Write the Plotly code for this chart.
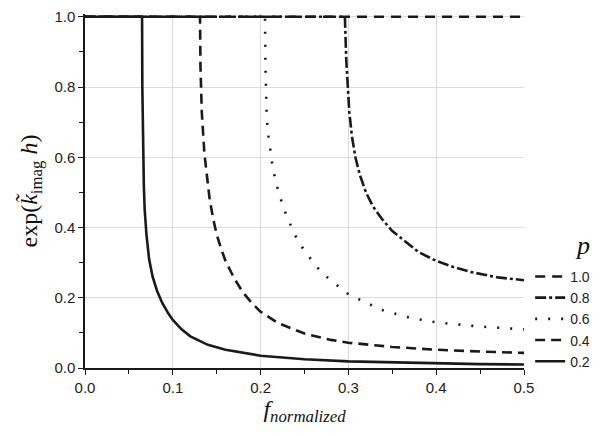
import plotly.graph_objects as go

# p = 1.0 (flat line)
x_p10 = [0.0, 0.5]
y_p10 = [1.0, 1.0]

# p = 0.8
x_p08 = [0.0, 0.296, 0.2975, 0.299, 0.301, 0.304, 0.308, 0.313, 0.320, 0.328, 0.338, 0.350,
         0.367, 0.380, 0.400, 0.420, 0.440, 0.470, 0.500]
y_p08 = [1.0, 1.0, 0.88, 0.80, 0.73, 0.66, 0.60, 0.55, 0.50, 0.46, 0.425, 0.39,
         0.355, 0.33, 0.305, 0.287, 0.273, 0.258, 0.250]

# p = 0.6
x_p06 = [0.0, 0.205, 0.2055, 0.206, 0.207, 0.209, 0.211, 0.213, 0.216, 0.220, 0.225, 0.230,
         0.240, 0.250, 0.270, 0.300, 0.338, 0.370, 0.400, 0.450, 0.500]
y_p06 = [1.0, 1.0, 0.86, 0.76, 0.71, 0.66, 0.62, 0.585, 0.545, 0.505, 0.465, 0.43,
         0.375, 0.333, 0.27, 0.21, 0.165, 0.143, 0.13, 0.118, 0.110]

# p = 0.4
x_p04 = [0.0, 0.131, 0.1315, 0.133, 0.136, 0.139, 0.142, 0.146, 0.150, 0.155, 0.160, 0.170,
         0.180, 0.190, 0.200, 0.220, 0.250, 0.280, 0.300, 0.350, 0.400, 0.450, 0.500]
y_p04 = [1.0, 1.0, 0.86, 0.73, 0.61, 0.535, 0.48, 0.425, 0.38, 0.34, 0.305, 0.255,
         0.215, 0.185, 0.16, 0.128, 0.098, 0.08, 0.072, 0.060, 0.052, 0.047, 0.043]

# p = 0.2
x_p02 = [0.0, 0.065, 0.0653, 0.066, 0.067, 0.068, 0.070, 0.073, 0.077, 0.082, 0.088, 0.095,
         0.100, 0.110, 0.120, 0.140, 0.160, 0.200, 0.250, 0.300, 0.350, 0.400, 0.450, 0.500]
y_p02 = [1.0, 1.0, 0.80, 0.62, 0.52, 0.45, 0.38, 0.31, 0.26, 0.22, 0.185, 0.155,
         0.137, 0.11, 0.09, 0.066, 0.052, 0.035, 0.025, 0.019, 0.016, 0.013, 0.011, 0.010]

labels = ["1.0", "0.8", "0.6", "0.4", "0.2"]
series = [(x_p10, y_p10), (x_p08, y_p08), (x_p06, y_p06), (x_p04, y_p04), (x_p02, y_p02)]
dashes = ["10px,7px", "11px,3px,3px,3px", "2px,11px", "10px,6px", "solid"]

ink = "#1a1a1a"
fig = go.Figure()
for lab, (xs, ys), d in zip(labels, series, dashes):
    fig.add_trace(go.Scatter(x=xs, y=ys, mode="lines", name=lab,
                             line=dict(color=ink, width=2.6, dash=d)))

tickfont = dict(family="Liberation Sans, Arial", size=15, color="#222")
serif = "Liberation Serif, Times New Roman"
# the page body has an 8px margin, so the figure is a bit smaller than the window
fig.update_layout(
    width=597, height=428,
    margin=dict(l=77, r=81, t=6, b=68),
    plot_bgcolor="white", paper_bgcolor="white",
    showlegend=True,
    legend=dict(x=1.014, xanchor="left", y=-0.025, yanchor="bottom",
                font=dict(family="Liberation Sans, Arial", size=14, color="#222"),
                bgcolor="rgba(0,0,0,0)", tracegroupgap=0, itemwidth=30),
    xaxis=dict(range=[0, 0.5], dtick=0.1, tickformat=".1f", showgrid=True, automargin=False,
               gridcolor="#dcdcdc", gridwidth=1, zeroline=False,
               showline=True, linecolor=ink, linewidth=1.5,
               ticks="outside", ticklen=5, tickcolor=ink, tickfont=tickfont,
               minor=dict(dtick=0.05, ticks="outside", ticklen=4, tickcolor=ink, showgrid=False),
               title=dict(text="<i>f<sub>normalized</sub></i>",
                          font=dict(family=serif, size=24, color="#111"), standoff=0)),
    yaxis=dict(range=[0, 1.008], tickvals=[0, 0.2, 0.4, 0.6, 0.8, 1.0], tickformat=".1f",
               showgrid=True, gridcolor="#dcdcdc", gridwidth=1, zeroline=False, automargin=False,
               showline=True, linecolor=ink, linewidth=1.5,
               ticks="outside", ticklen=5, tickcolor=ink, tickfont=tickfont,
               minor=dict(dtick=0.1, ticks="outside", ticklen=4, tickcolor=ink, showgrid=False),
               title=dict(text="exp(<i>k̃</i><sub>imag</sub> <i>h</i>)",
                          font=dict(family=serif, size=24, color="#111"), standoff=10)),
    xaxis2=dict(overlaying="x", range=[0, 0.5], dtick=0.1, showgrid=False, zeroline=False,
                showticklabels=False, ticks="inside", ticklen=4, tickcolor=ink, automargin=False,
                minor=dict(dtick=0.05, ticks="inside", ticklen=3, tickcolor=ink), anchor="y"),
    yaxis2=dict(overlaying="y", range=[0, 1.008], tickvals=[0, 0.2, 0.4, 0.6, 0.8, 1.0],
                showgrid=False, zeroline=False, showticklabels=False, ticks="inside",
                ticklen=4, tickcolor=ink, automargin=False,
                minor=dict(dtick=0.1, ticks="inside", ticklen=3, tickcolor=ink), anchor="x"),
)
fig.add_annotation(text="<i>p</i>", xref="paper", yref="paper", x=1.155, y=0.30,
                   xanchor="right", yanchor="bottom", showarrow=False,
                   font=dict(family=serif, size=26, color="#111"))

fig.write_html("out.html")
